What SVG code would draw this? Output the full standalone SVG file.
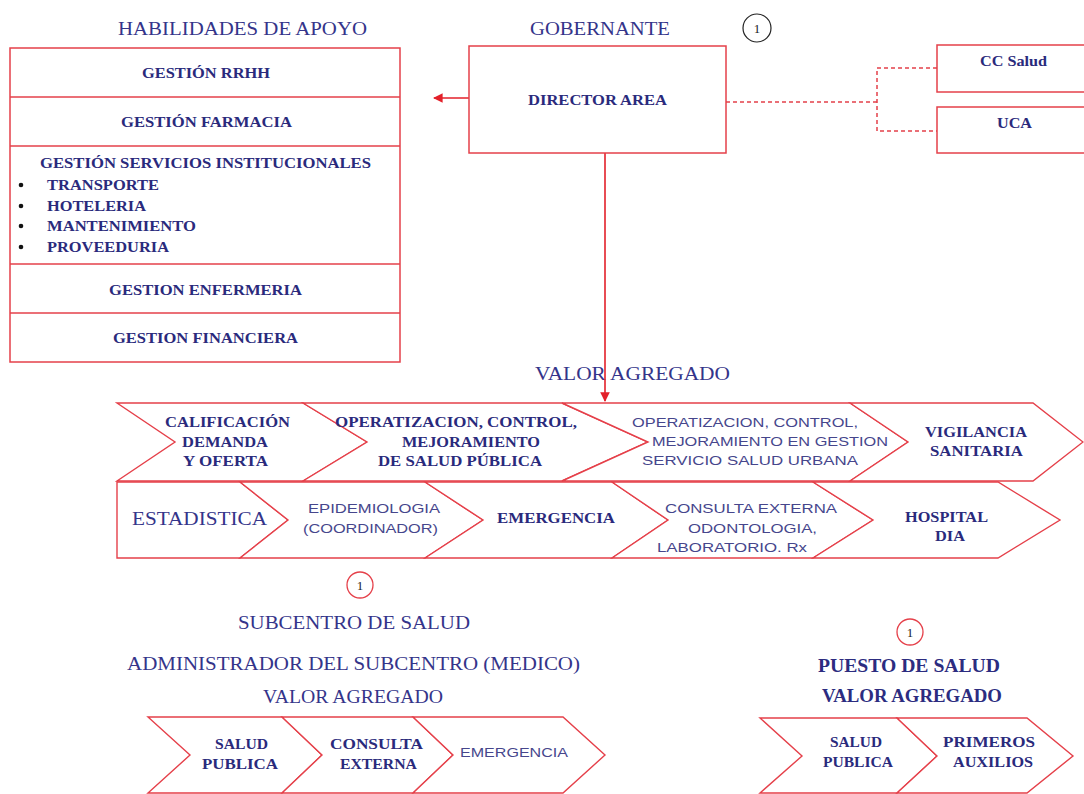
<svg xmlns="http://www.w3.org/2000/svg" width="1084" height="794" viewBox="0 0 1084 794">
  <defs>
    <style>
      .box { fill: #ffffff; stroke: #e5404a; stroke-width: 1.5; }
      .chev { fill: #ffffff; stroke: #e5404a; stroke-width: 1.4; stroke-linejoin: miter; }
      .link { fill: none; stroke: #e3202a; stroke-width: 1.6; }
      .dash { fill: none; stroke: #e3404a; stroke-width: 1.5; stroke-dasharray: 4 3; }
      .title { font-family: "Liberation Serif", "Times New Roman", serif; font-size: 19px; fill: #34348a; }
      .btitle { font-family: "Liberation Serif", "Times New Roman", serif; font-size: 18px; font-weight: bold; fill: #2c2c80; }
      .lbl { font-family: "Liberation Serif", "Times New Roman", serif; font-size: 15px; font-weight: bold; fill: #2a2a7c; }
      .thin { font-family: "Liberation Sans", Arial, sans-serif; font-size: 13.5px; fill: #46468c; }
      .num { font-family: "Liberation Serif", "Times New Roman", serif; font-size: 13px; fill: #222222; text-anchor: middle; }
    </style>
    <marker id="arr" viewBox="0 0 10 10" refX="9" refY="5" markerWidth="6" markerHeight="6" orient="auto-start-reverse">
      <path d="M0,0 L10,5 L0,10 z" fill="#e3202a"/>
    </marker>
  </defs>

  <rect x="0" y="0" width="1084" height="794" fill="#ffffff"/>

  <!-- section headings -->
  <text class="title" x="118" y="35" textLength="249" lengthAdjust="spacingAndGlyphs">HABILIDADES DE APOYO</text>
  <text class="title" x="530" y="35" textLength="140" lengthAdjust="spacingAndGlyphs">GOBERNANTE</text>
  <text class="title" x="535" y="380" textLength="195" lengthAdjust="spacingAndGlyphs">VALOR AGREGADO</text>

  <!-- connectors -->
  <g id="connectors">
    <line class="link" x1="469" y1="98" x2="434" y2="98" marker-end="url(#arr)"/>
    <line class="link" x1="605" y1="153" x2="605" y2="401" marker-end="url(#arr)"/>
    <polyline class="dash" points="726,102 877,102"/>
    <polyline class="dash" points="937,68 877,68 877,131 937,131"/>
  </g>

  <!-- support functions stack -->
  <g id="habilidades-apoyo">
    <rect class="box" x="10" y="48" width="390" height="314"/>
    <line class="box" x1="10" y1="97" x2="400" y2="97"/>
    <line class="box" x1="10" y1="146" x2="400" y2="146"/>
    <line class="box" x1="10" y1="264" x2="400" y2="264"/>
    <line class="box" x1="10" y1="313" x2="400" y2="313"/>
    <text class="lbl" x="142" y="78" textLength="128" lengthAdjust="spacingAndGlyphs">GESTIÓN RRHH</text>
    <text class="lbl" x="121" y="127" textLength="171" lengthAdjust="spacingAndGlyphs">GESTIÓN FARMACIA</text>
    <text class="lbl" x="40" y="168" textLength="331" lengthAdjust="spacingAndGlyphs">GESTIÓN SERVICIOS INSTITUCIONALES</text>
    <circle cx="21" cy="185" r="2.3" fill="#111"/>
    <circle cx="21" cy="206" r="2.3" fill="#111"/>
    <circle cx="21" cy="226" r="2.3" fill="#111"/>
    <circle cx="21" cy="247" r="2.3" fill="#111"/>
    <text class="lbl" x="47" y="190" textLength="112" lengthAdjust="spacingAndGlyphs">TRANSPORTE</text>
    <text class="lbl" x="47" y="211" textLength="99" lengthAdjust="spacingAndGlyphs">HOTELERIA</text>
    <text class="lbl" x="47" y="231" textLength="149" lengthAdjust="spacingAndGlyphs">MANTENIMIENTO</text>
    <text class="lbl" x="47" y="252" textLength="122" lengthAdjust="spacingAndGlyphs">PROVEEDURIA</text>
    <text class="lbl" x="109" y="295" textLength="193" lengthAdjust="spacingAndGlyphs">GESTION ENFERMERIA</text>
    <text class="lbl" x="113" y="343" textLength="185" lengthAdjust="spacingAndGlyphs">GESTION FINANCIERA</text>
  </g>

  <!-- governing level -->
  <g id="director-area">
    <rect class="box" x="469" y="46" width="257" height="107"/>
    <text class="lbl" x="528" y="105" textLength="139" lengthAdjust="spacingAndGlyphs">DIRECTOR AREA</text>
  </g>
  <g id="badge-gobernante">
    <circle cx="757" cy="28" r="14" fill="#ffffff" stroke="#222" stroke-width="1.2"/>
    <text class="num" x="757" y="32.5">1</text>
  </g>
  <g id="cc-salud">
    <rect class="box" x="937" y="45" width="160" height="47"/>
    <text class="lbl" x="980" y="66" textLength="67" lengthAdjust="spacingAndGlyphs">CC Salud</text>
  </g>
  <g id="uca">
    <rect class="box" x="937" y="107" width="160" height="46"/>
    <text class="lbl" x="997" y="128" textLength="35" lengthAdjust="spacingAndGlyphs">UCA</text>
  </g>

  <!-- value chain, first row -->
  <g id="calificacion">
    <polygon class="chev" points="117,403 303,403 367,442 303,481 117,481 175,442"/>
    <text class="lbl" x="165" y="427" textLength="125" lengthAdjust="spacingAndGlyphs">CALIFICACIÓN</text>
    <text class="lbl" x="182" y="447" textLength="86" lengthAdjust="spacingAndGlyphs">DEMANDA</text>
    <text class="lbl" x="183" y="466" textLength="85" lengthAdjust="spacingAndGlyphs">Y OFERTA</text>
  </g>
  <g id="salud-publica-main">
    <polygon class="chev" points="303,403 562,403 648,442 562,481 303,481 367,442"/>
    <text class="lbl" x="335" y="427" textLength="242" lengthAdjust="spacingAndGlyphs">OPERATIZACION, CONTROL,</text>
    <text class="lbl" x="402" y="447" textLength="138" lengthAdjust="spacingAndGlyphs">MEJORAMIENTO</text>
    <text class="lbl" x="378" y="466" textLength="164" lengthAdjust="spacingAndGlyphs">DE SALUD PÚBLICA</text>
  </g>
  <g id="salud-urbana">
    <polygon class="chev" points="562,403 850,403 908,442 850,481 562,481 648,442"/>
    <text class="thin" x="632" y="427" textLength="226" lengthAdjust="spacingAndGlyphs">OPERATIZACION, CONTROL,</text>
    <text class="thin" x="652" y="446" textLength="236" lengthAdjust="spacingAndGlyphs">MEJORAMIENTO EN GESTION</text>
    <text class="thin" x="642" y="465" textLength="216" lengthAdjust="spacingAndGlyphs">SERVICIO SALUD URBANA</text>
  </g>
  <g id="vigilancia">
    <polygon class="chev" points="850,403 1033,403 1083,442 1033,481 850,481 908,442"/>
    <text class="lbl" x="925" y="437" textLength="102" lengthAdjust="spacingAndGlyphs">VIGILANCIA</text>
    <text class="lbl" x="930" y="456" textLength="93" lengthAdjust="spacingAndGlyphs">SANITARIA</text>
  </g>

  <!-- value chain, second row -->
  <g id="estadistica">
    <polygon class="chev" points="117,482 240,482 288,520 240,558 117,558"/>
    <text class="title" x="132" y="525" textLength="135" lengthAdjust="spacingAndGlyphs">ESTADISTICA</text>
  </g>
  <g id="epidemiologia">
    <polygon class="chev" points="240,482 425,482 483,520 425,558 240,558 288,520"/>
    <text class="thin" x="308" y="513" textLength="132" lengthAdjust="spacingAndGlyphs">EPIDEMIOLOGIA</text>
    <text class="thin" x="303" y="533" textLength="135" lengthAdjust="spacingAndGlyphs">(COORDINADOR)</text>
  </g>
  <g id="emergencia">
    <polygon class="chev" points="425,482 612,482 668,520 612,558 425,558 483,520"/>
    <text class="lbl" x="497" y="523" textLength="118" lengthAdjust="spacingAndGlyphs">EMERGENCIA</text>
  </g>
  <g id="consulta-externa">
    <polygon class="chev" points="612,482 813,482 873,520 813,558 612,558 668,520"/>
    <text class="thin" x="665" y="513" textLength="172" lengthAdjust="spacingAndGlyphs">CONSULTA EXTERNA</text>
    <text class="thin" x="688" y="533" textLength="129" lengthAdjust="spacingAndGlyphs">ODONTOLOGIA,</text>
    <text class="thin" x="657" y="552" textLength="150" lengthAdjust="spacingAndGlyphs">LABORATORIO. Rx</text>
  </g>
  <g id="hospital-dia">
    <polygon class="chev" points="813,482 998,482 1060,520 998,558 813,558 873,520"/>
    <text class="lbl" x="905" y="522" textLength="83" lengthAdjust="spacingAndGlyphs">HOSPITAL</text>
    <text class="lbl" x="935" y="541" textLength="30" lengthAdjust="spacingAndGlyphs">DIA</text>
  </g>

  <!-- health sub-centre -->
  <g id="badge-subcentro">
    <circle cx="360" cy="585" r="13" fill="#ffffff" stroke="#e5404a" stroke-width="1.3"/>
    <text class="num" x="360" y="589.5">1</text>
  </g>
  <text class="title" x="238" y="629" textLength="232" lengthAdjust="spacingAndGlyphs">SUBCENTRO DE SALUD</text>
  <text class="title" x="127" y="670" textLength="453" lengthAdjust="spacingAndGlyphs">ADMINISTRADOR DEL SUBCENTRO (MEDICO)</text>
  <text class="title" x="263" y="703" textLength="180" lengthAdjust="spacingAndGlyphs">VALOR AGREGADO</text>
  <g id="sub-salud-publica">
    <polygon class="chev" points="148,717 282,717 322,755 282,793 148,793 190,755"/>
    <text class="lbl" x="215" y="749" textLength="53" lengthAdjust="spacingAndGlyphs">SALUD</text>
    <text class="lbl" x="202" y="769" textLength="76" lengthAdjust="spacingAndGlyphs">PUBLICA</text>
  </g>
  <g id="sub-consulta-externa">
    <polygon class="chev" points="282,717 413,717 453,755 413,793 282,793 322,755"/>
    <text class="lbl" x="330" y="749" textLength="93" lengthAdjust="spacingAndGlyphs">CONSULTA</text>
    <text class="lbl" x="340" y="769" textLength="77" lengthAdjust="spacingAndGlyphs">EXTERNA</text>
  </g>
  <g id="sub-emergencia">
    <polygon class="chev" points="413,717 563,717 605,755 563,793 413,793 453,755"/>
    <text class="thin" x="460" y="757" textLength="108" lengthAdjust="spacingAndGlyphs">EMERGENCIA</text>
  </g>

  <!-- health post -->
  <g id="badge-puesto">
    <circle cx="910" cy="632" r="13" fill="#ffffff" stroke="#e5404a" stroke-width="1.3"/>
    <text class="num" x="910" y="636.5">1</text>
  </g>
  <text class="btitle" x="818" y="672" textLength="182" lengthAdjust="spacingAndGlyphs">PUESTO DE SALUD</text>
  <text class="btitle" x="822" y="702" textLength="180" lengthAdjust="spacingAndGlyphs">VALOR AGREGADO</text>
  <g id="puesto-salud-publica">
    <polygon class="chev" points="760,718 897,718 937,756 897,793 760,793 802,756"/>
    <text class="lbl" x="830" y="747" textLength="52" lengthAdjust="spacingAndGlyphs">SALUD</text>
    <text class="lbl" x="823" y="767" textLength="70" lengthAdjust="spacingAndGlyphs">PUBLICA</text>
  </g>
  <g id="puesto-primeros-auxilios">
    <polygon class="chev" points="897,718 1027,718 1073,756 1027,793 897,793 937,756"/>
    <text class="lbl" x="943" y="747" textLength="92" lengthAdjust="spacingAndGlyphs">PRIMEROS</text>
    <text class="lbl" x="953" y="767" textLength="80" lengthAdjust="spacingAndGlyphs">AUXILIOS</text>
  </g>
</svg>
